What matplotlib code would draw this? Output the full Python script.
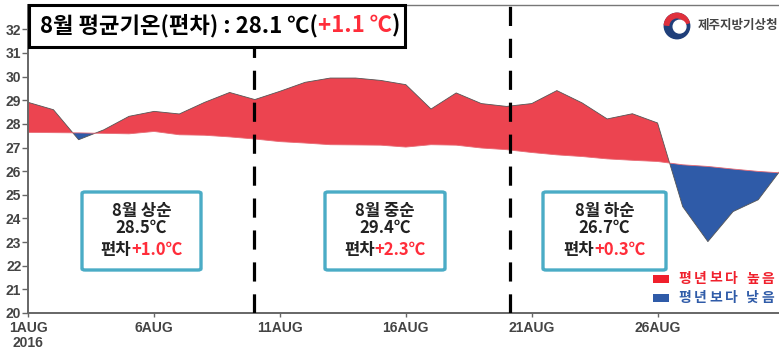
import matplotlib
matplotlib.use('Agg')
import matplotlib.pyplot as plt
from matplotlib.patches import Rectangle, FancyBboxPatch, Circle, Wedge
import numpy as np

plt.rcParams['font.family'] = ['Noto Sans CJK KR', 'DejaVu Sans']

# daily mean temperature, Aug 2016 (observed) and climatological normal
days = np.arange(1, 32)
observed = [28.91, 28.60, 27.33, 27.75, 28.32, 28.53, 28.42, 28.91, 29.33, 29.03,
            29.38, 29.76, 29.94, 29.94, 29.84, 29.66, 28.63, 29.31, 28.86, 28.74,
            28.86, 29.41, 28.89, 28.21, 28.43, 28.04, 24.50, 23.02, 24.29, 24.79,
            26.20]
normal = [27.64, 27.63, 27.62, 27.60, 27.58, 27.68, 27.54, 27.52, 27.45, 27.36,
          27.25, 27.19, 27.12, 27.11, 27.10, 27.02, 27.12, 27.10, 26.98, 26.91,
          26.79, 26.69, 26.62, 26.52, 26.46, 26.41, 26.27, 26.20, 26.09, 25.99,
          25.92]

xtick_days = [1, 6, 11, 16, 21, 26]
xtick_labels = ['1AUG\n2016', '6AUG', '11AUG', '16AUG', '21AUG', '26AUG']
period_bounds = [9.95, 20.15]

title_parts = [('8월 평균기온(편차) : 28.1 ℃(', 'black'), ('+1.1 ℃', '#ff2d3a'), (')', 'black')]
periods = ['8월 상순', '8월 중순', '8월 하순']
period_means = ['28.5℃', '29.4℃', '26.7℃']
period_devs = ['+1.0℃', '+2.3℃', '+0.3℃']
legend_labels = ['평년보다 높음', '평년보다 낮음']

RED = '#ec4450'
BLUE = '#2f5ba8'
W, H = 779, 351

fig = plt.figure(figsize=(W / 100, H / 100), dpi=100)
ax = fig.add_axes([28.3 / W, 1 - 313 / H, 1 - 28.3 / W, (313 - 5) / H])

obs = np.array(observed)
nrm = np.array(normal)
ax.fill_between(days, nrm, obs, where=obs >= nrm, interpolate=True, color=RED, lw=0)
ax.fill_between(days, nrm, obs, where=obs <= nrm, interpolate=True, color=BLUE, lw=0)
ax.plot(days, obs, color='#555555', lw=0.6)
ax.plot(days, nrm, color='#e86a74', lw=0.6)

for d in period_bounds:
    ax.axvline(d, color='black', lw=2.3, dashes=(6, 4), zorder=3)

ax.set_xlim(1, 1 + (W - 28.3) / 25.17)
ax.set_ylim(20, 33.03)
ax.set_yticks(range(20, 33))
ax.set_xticks(xtick_days)
ax.set_xticklabels(xtick_labels)

for lab in ax.get_yticklabels() + ax.get_xticklabels():
    lab.set_fontfamily(['Liberation Sans Narrow', 'Liberation Sans'])
    lab.set_fontweight('bold')
    lab.set_fontsize(10)
    lab.set_color('#444444')
for lab in ax.get_xticklabels():
    lab.set_linespacing(1.05)
ax.tick_params(axis='y', length=4, width=1, color='#666666', pad=1)
ax.tick_params(axis='x', length=3, width=1, color='#666666', pad=3)

for s in ['left', 'bottom']:
    ax.spines[s].set_color('#666666')
    ax.spines[s].set_linewidth(1.4)
ax.spines['top'].set_color('#777777')
ax.spines['top'].set_linewidth(1.0)
ax.spines['right'].set_visible(False)

renderer = fig.canvas.get_renderer()


def px(x, y):
    return x / W, 1 - y / H


def multi_text(x, y, parts, center=True, gap=0, **kw):
    # draw pieces one after another, each with its own colour
    texts = []
    for s, c in parts:
        t = fig.text(0, 1 - y / H, s, color=c, va='center', ha='left', **kw)
        texts.append(t)
    widths = [t.get_window_extent(renderer).width for t in texts]
    total = sum(widths) + gap * (len(texts) - 1)
    start = x - total / 2 if center else x
    for t, w in zip(texts, widths):
        t.set_x(start / W)
        start += w + gap
    return texts


# title box
fig.patches.append(Rectangle(px(29, 47), (405 - 29) / W, 42 / H, transform=fig.transFigure,
                             facecolor='white', edgecolor='black', lw=2.2, zorder=5))
multi_text(40, 26, title_parts, center=False, fontsize=16, weight='bold', zorder=6)

# period boxes
box_x = [(82, 201), (325, 445), (543, 666)]
for (x0, x1), name, mean, dev in zip(box_x, periods, period_means, period_devs):
    fig.patches.append(FancyBboxPatch(px(x0, 270), (x1 - x0) / W, 78 / H,
                                      boxstyle='round,pad=0,rounding_size=0.004',
                                      transform=fig.transFigure, facecolor='white',
                                      edgecolor='#4bacc6', lw=2.4, zorder=5))
    xc = (x0 + x1) / 2
    fig.text(xc / W, 1 - 211 / H, name, ha='center', va='center', fontsize=12,
             weight='bold', color='#222222', zorder=6)
    fig.text(xc / W, 1 - 228 / H, mean, ha='center', va='center', fontsize=12,
             weight='bold', color='#222222', zorder=6)
    multi_text(xc, 250, [('편차', '#222222'), (dev, '#ff2d3a')], fontsize=12,
               weight='bold', zorder=6)

# legend
for yc, c, lab in [(279, '#f0202c', legend_labels[0]), (298, BLUE, legend_labels[1])]:
    fig.patches.append(Rectangle(px(653, yc + 4), 16 / W, 8 / H, transform=fig.transFigure,
                                 facecolor=c, edgecolor='none', zorder=5))
    multi_text(678, yc, [(ch, c) for ch in lab if ch != ' '], center=False, gap=3,
               fontsize=10, weight='bold', zorder=6)
    # widen the word gap
    for t in fig.texts[-2:]:
        t.set_x(t.get_position()[0] + 5 / W)

# logo
lax = fig.add_axes([663 / W, 1 - 41 / H, 28 / W, 30 / H])
lax.set_xlim(-1.1, 1.1)
lax.set_ylim(-1.1, 1.1)
lax.set_aspect('equal')
lax.axis('off')
lax.add_patch(Circle((0, 0), 1, color='#1f3f7a'))
lax.add_patch(Wedge((0, 0), 1, 15, 175, width=0.35, color='#e0303c'))
lax.add_patch(Circle((0.2, -0.05), 0.5, color='white'))
fig.text(698 / W, 1 - 26 / H, '제주지방기상청', ha='left', va='center', fontsize=9,
         weight='bold', color='#444444')

fig.savefig('out.png', dpi=100)
